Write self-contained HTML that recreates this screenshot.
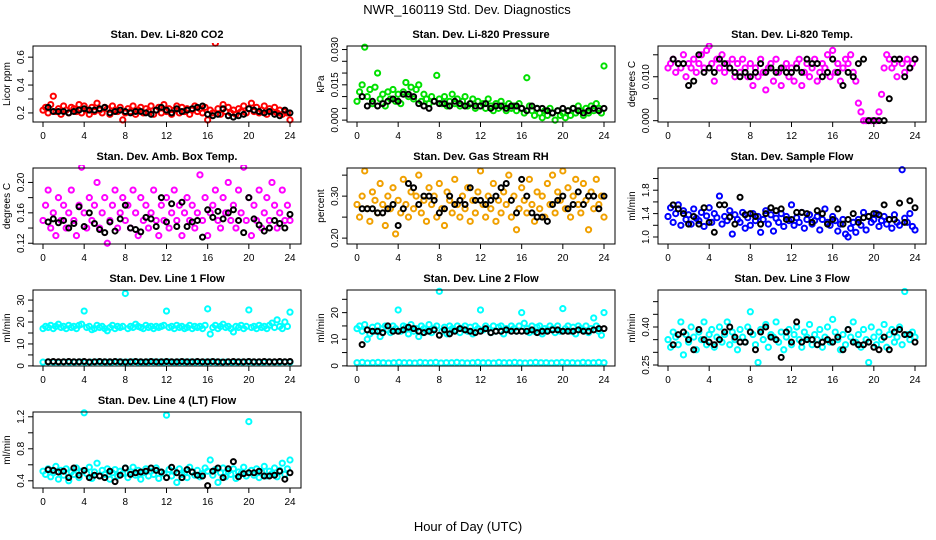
<!DOCTYPE html>
<html><head><meta charset="utf-8"><style>
body{margin:0;background:#fff;}
svg{display:block;font-family:"Liberation Sans",sans-serif;}
</style></head><body>
<svg id="chart" width="936" height="540" viewBox="0 0 936 540">
<rect width="936" height="540" fill="#fff"/>
<text x="467" y="14" text-anchor="middle" font-size="13">NWR_160119  Std. Dev. Diagnostics</text>
<text x="468" y="531" text-anchor="middle" font-size="13">Hour of Day (UTC)</text>
</svg>
<script>
const xTicks = [0,4,8,12,16,20,24];
const titles = ["Stan. Dev. Li-820 CO2","Stan. Dev. Li-820 Pressure","Stan. Dev. Li-820 Temp.","Stan. Dev. Amb. Box Temp.","Stan. Dev. Gas Stream RH","Stan. Dev. Sample Flow","Stan. Dev. Line 1 Flow","Stan. Dev. Line 2 Flow","Stan. Dev. Line 3 Flow","Stan. Dev. Line 4 (LT) Flow"];
const yUnits = ["Licor ppm","kPa","degrees C","degrees C","percent","ml/min","ml/min","ml/min","ml/min","ml/min"];
const yRanges = [[0.135,0.68],[-0.0008,0.0315],[-0.0003,0.017],[0.119,0.219],[0.186,0.367],[0.88,2.18],[-0.05,34.6],[-0.05,28.5],[0.246,0.546],[0.31,1.26]];
const yTickVals = [[0.2,0.3,0.4,0.5,0.6],[0,0.005,0.010,0.015,0.020,0.025,0.030],[0,0.005,0.010,0.015],[0.12,0.14,0.16,0.18,0.20],[0.20,0.25,0.30,0.35],[1.0,1.2,1.4,1.6,1.8,2.0],[0,5,10,15,20,25,30],[0,5,10,15,20,25],[0.25,0.30,0.35,0.40,0.45,0.50],[0.4,0.6,0.8,1.0,1.2]];
const yTickLabels = [["0.2","","0.4","","0.6"],["0.000","","","0.015","","","0.030"],["0.000","","0.010",""],["0.12","","0.16","","0.20"],["0.20","","0.30",""],["1.0","","1.4","","1.8",""],["0","","10","","20","","30"],["0","","10","","20",""],["0.25","","","0.40","",""],["0.4","","0.8","","1.2"]];
const colors = ["#ff0000","#00e000","#ff00ff","#ff00ff","#f0a000","#0000ff","#00ffff","#00ffff","#00ffff","#00ffff"];

const c1=[0.22,0.24,0.20,0.26,0.32,0.21,0.23,0.19,0.25,0.22,0.20,0.24,0.23,0.21,0.26,0.20,0.25,0.22,0.19,0.24,0.21,0.27,0.22,0.20,0.24,0.23,0.19,0.25,0.22,0.21,0.24,0.15,0.20,0.23,0.21,0.25,0.19,0.22,0.24,0.20,0.23,0.21,0.25,0.19,0.22,0.24,0.20,0.26,0.21,0.23,0.19,0.22,0.25,0.20,0.24,0.21,0.23,0.19,0.22,0.25,0.21,0.23,0.20,0.24,0.15,0.22,0.20,0.70,0.23,0.19,0.26,0.21,0.24,0.20,0.22,0.19,0.23,0.21,0.25,0.20,0.23,0.27,0.21,0.24,0.20,0.22,0.25,0.19,0.23,0.21,0.24,0.20,0.22,0.19,0.21,0.20,0.15];
const k1=[0.24,0.21,0.21,0.21,0.20,0.21,0.22,0.23,0.22,0.22,0.23,0.24,0.20,0.21,0.22,0.21,0.20,0.21,0.21,0.20,0.19,0.22,0.24,0.22,0.20,0.23,0.21,0.22,0.23,0.24,0.25,0.19,0.18,0.19,0.23,0.18,0.17,0.18,0.19,0.23,0.22,0.21,0.20,0.21,0.19,0.18,0.22,0.20];
const c2=[0.008,0.012,0.015,0.031,0.010,0.013,0.007,0.014,0.020,0.009,0.011,0.006,0.012,0.009,0.013,0.008,0.011,0.007,0.012,0.016,0.010,0.014,0.009,0.013,0.015,0.008,0.011,0.009,0.007,0.010,0.008,0.019,0.009,0.007,0.010,0.006,0.008,0.011,0.007,0.009,0.006,0.008,0.010,0.006,0.007,0.009,0.005,0.008,0.006,0.007,0.005,0.009,0.006,0.004,0.007,0.005,0.008,0.006,0.004,0.007,0.005,0.006,0.004,0.007,0.005,0.003,0.018,0.006,0.004,0.002,0.005,0.003,0.001,0.004,0.002,0.005,0.003,0.000,0.004,0.002,0.003,0.001,0.004,0.002,0.005,0.003,0.006,0.004,0.002,0.005,0.003,0.006,0.004,0.007,0.005,0.003,0.023];
const k2=[0.010,0.006,0.008,0.006,0.007,0.008,0.009,0.008,0.011,0.011,0.010,0.007,0.006,0.005,0.008,0.007,0.007,0.006,0.008,0.007,0.006,0.007,0.006,0.006,0.007,0.005,0.006,0.006,0.005,0.006,0.006,0.005,0.004,0.006,0.005,0.005,0.004,0.003,0.004,0.005,0.004,0.005,0.004,0.003,0.004,0.005,0.004,0.005];
const c3=[0.012,0.013,0.014,0.011,0.013,0.012,0.015,0.010,0.013,0.012,0.014,0.011,0.013,0.015,0.012,0.016,0.017,0.013,0.009,0.014,0.012,0.015,0.011,0.013,0.012,0.014,0.010,0.013,0.011,0.014,0.012,0.010,0.013,0.008,0.012,0.010,0.014,0.011,0.007,0.012,0.013,0.009,0.014,0.011,0.008,0.012,0.013,0.010,0.012,0.009,0.013,0.014,0.008,0.011,0.013,0.010,0.012,0.014,0.009,0.011,0.013,0.012,0.015,0.010,0.016,0.011,0.013,0.009,0.012,0.014,0.013,0.015,0.011,0.009,0.004,0.002,0.000,0.000,0.000,0.000,0.000,0.000,0.002,0.006,0.012,0.015,0.014,0.012,0.013,0.010,0.014,0.013,0.011,0.014,0.012,0.013,0.014];
const k3=[0.014,0.013,0.013,0.008,0.009,0.015,0.011,0.012,0.011,0.014,0.013,0.012,0.011,0.010,0.011,0.010,0.011,0.013,0.011,0.012,0.011,0.012,0.011,0.011,0.012,0.011,0.014,0.013,0.013,0.010,0.011,0.014,0.011,0.008,0.011,0.010,0.013,0.014,0.000,0.000,0.000,0.000,0.005,0.014,0.014,0.010,0.012,0.014];
const c4=[0.15,0.17,0.19,0.14,0.16,0.13,0.18,0.15,0.17,0.14,0.16,0.19,0.15,0.13,0.17,0.22,0.16,0.14,0.18,0.15,0.17,0.20,0.14,0.16,0.18,0.12,0.15,0.17,0.19,0.14,0.16,0.18,0.15,0.17,0.14,0.19,0.16,0.13,0.18,0.15,0.17,0.14,0.16,0.19,0.15,0.13,0.17,0.15,0.18,0.14,0.16,0.19,0.15,0.17,0.13,0.16,0.18,0.15,0.17,0.14,0.16,0.21,0.15,0.18,0.13,0.16,0.17,0.19,0.15,0.14,0.18,0.16,0.20,0.15,0.17,0.14,0.19,0.16,0.22,0.15,0.18,0.13,0.17,0.15,0.19,0.14,0.16,0.18,0.15,0.20,0.17,0.14,0.16,0.19,0.15,0.17,0.15];
const k4=[0.148,0.152,0.147,0.150,0.140,0.146,0.168,0.142,0.160,0.146,0.138,0.134,0.148,0.136,0.152,0.170,0.140,0.138,0.135,0.154,0.152,0.142,0.180,0.148,0.172,0.142,0.174,0.142,0.148,0.150,0.128,0.164,0.154,0.162,0.152,0.160,0.164,0.150,0.134,0.180,0.152,0.144,0.136,0.140,0.150,0.146,0.140,0.158];
const c5=[0.28,0.25,0.30,0.36,0.27,0.24,0.31,0.29,0.26,0.33,0.28,0.23,0.30,0.27,0.32,0.21,0.29,0.26,0.34,0.28,0.25,0.31,0.27,0.30,0.35,0.26,0.29,0.24,0.32,0.28,0.30,0.25,0.33,0.27,0.23,0.31,0.29,0.26,0.34,0.28,0.25,0.30,0.27,0.32,0.24,0.29,0.26,0.31,0.36,0.28,0.25,0.30,0.27,0.33,0.24,0.29,0.26,0.31,0.28,0.35,0.25,0.30,0.22,0.27,0.32,0.29,0.26,0.34,0.28,0.24,0.31,0.27,0.30,0.25,0.33,0.28,0.35,0.26,0.31,0.29,0.36,0.27,0.32,0.25,0.30,0.34,0.28,0.26,0.33,0.29,0.22,0.31,0.27,0.34,0.28,0.30,0.25];
const k5=[0.27,0.27,0.27,0.26,0.26,0.27,0.28,0.23,0.27,0.33,0.32,0.28,0.30,0.30,0.29,0.26,0.27,0.30,0.28,0.29,0.28,0.32,0.29,0.29,0.28,0.29,0.30,0.32,0.33,0.29,0.26,0.34,0.30,0.26,0.25,0.25,0.24,0.28,0.29,0.30,0.27,0.28,0.31,0.28,0.30,0.30,0.27,0.30];
const c6=[1.35,1.50,1.25,1.40,1.55,1.20,1.45,1.30,1.38,1.22,1.48,1.32,1.28,1.42,1.18,1.36,1.50,1.25,1.40,1.33,1.70,1.22,1.35,1.28,1.45,1.05,1.38,1.30,1.25,1.42,1.15,1.33,1.20,1.40,1.28,1.35,1.08,1.30,1.45,1.22,1.38,1.10,1.32,1.25,1.40,1.18,1.35,1.28,1.55,1.20,1.33,1.25,1.42,1.15,1.30,1.38,1.22,1.28,1.35,1.12,1.30,1.48,1.25,1.20,1.35,1.28,1.10,1.22,1.30,1.05,1.00,1.15,1.25,1.08,1.30,1.20,1.42,1.12,1.35,1.25,1.30,1.40,1.18,1.28,1.35,1.22,1.30,1.15,1.38,1.25,1.20,2.15,1.32,1.25,1.40,1.18,1.12];
const k6=[1.55,1.48,1.40,1.22,1.35,1.22,1.50,1.25,1.08,1.55,1.55,1.34,1.22,1.68,1.38,1.40,1.35,1.22,1.40,1.50,1.45,1.48,1.30,1.30,1.42,1.42,1.40,1.25,1.45,1.40,1.22,1.30,1.48,1.22,1.30,1.40,1.25,1.33,1.35,1.40,1.38,1.55,1.30,1.30,1.58,1.25,1.62,1.50];
const c7=[17,18,17.5,18.5,17,18,19,17.5,18,17,18.5,17.5,18,17,18.5,19,25,17.5,18,16.5,17,18.5,17.5,18,17,16,17.5,18.5,17,18,17.5,18,33,17,18,17.5,19,18,17.5,17,18.5,17.5,18,17,18,17.5,18,18.5,25,17.5,18,17,18.5,17.5,18,17,17.5,18.5,17,18,17.5,18,17,18.5,26,14.5,17.5,18.5,17,18,19,17.5,18,17,15.5,18,17.5,18.5,17,18,25.5,17.5,18,17,18.5,17.5,18,17,18.5,19.5,17.5,21,18,17,20,18,24.5];
const c7low=[1.7,1.8,1.7,1.6,1.8,1.7,1.7,1.8,1.6,1.7,1.8,1.7,1.7,1.6,1.8,1.7,1.7,1.8,1.7,1.6,1.7,1.8,1.7,1.7,1.8,1.6,1.7,1.7,1.8,1.7,1.6,1.7,1.8,1.7,1.7,1.8,1.6,1.7,1.7,1.8,1.7,1.7,1.6,1.8,1.7,1.7,1.8,1.7];
const k7=[1.9,2.0,1.9,1.9,2.0,1.9,1.9,2.0,1.8,1.9,2.0,1.9,1.9,2.0,1.9,1.8,1.9,2.0,1.9,1.9,2.0,1.9,1.9,2.0,1.9,1.9,2.0,1.9,1.9,2.0,1.9,1.9,2.0,1.9,1.8,1.9,2.0,1.9,1.9,2.0,1.9,1.9,2.0,1.9,1.9,2.0,1.9,2.0];
const c8=[14,15,13,15.5,10,12,14.5,13,15,11,14,15,13.5,12.5,15,14,21,13,15,14.5,12,15.5,13,14,11,15,14,13,15.5,12.5,14,15,28,13,14.5,12,15,14,13.5,15,12.5,14,15,13,14.5,12,15,14,21,13.5,15,14,12.5,15,13,14.5,15,12,14,13.5,15,14,13,15,20,16,14,12.5,15,13,14.5,15,12,14,13.5,15,14,12.5,15,13,21.5,14,15,13,14.5,12,15,14,13.5,15,12.5,14,18,15,13,11.5,20];
const c8low=[1.2,1.3,1.1,1.2,1.3,1.2,1.1,1.2,1.3,1.2,1.2,1.1,1.3,1.2,1.2,1.3,1.1,1.2,1.2,1.3,1.2,1.1,1.2,1.3,1.2,1.2,1.1,1.3,1.2,1.2,1.3,1.2,1.1,1.2,1.3,1.2,1.2,1.1,1.2,1.3,1.2,1.2,1.1,1.3,1.2,1.2,1.3,1.2];
const k8=[8,13.5,13,13,12.5,15,13,13,13.5,14.5,14,13,12.5,13,13.5,11.5,13.5,12,13,14,13.5,13,12.5,13,14,12.5,13,13,13.5,13,13,13,13,13.5,12.5,13,13,13.5,13.5,13,13,13,13.5,13,13,13.5,14,14];
const c9=[0.35,0.32,0.38,0.36,0.33,0.42,0.29,0.37,0.34,0.40,0.36,0.31,0.38,0.35,0.42,0.33,0.37,0.39,0.32,0.36,0.40,0.34,0.37,0.42,0.33,0.38,0.35,0.31,0.39,0.36,0.34,0.40,0.46,0.37,0.33,0.26,0.39,0.35,0.41,0.32,0.37,0.36,0.42,0.34,0.38,0.31,0.36,0.39,0.33,0.37,0.40,0.35,0.32,0.38,0.36,0.41,0.33,0.37,0.35,0.39,0.32,0.36,0.40,0.34,0.43,0.38,0.35,0.31,0.37,0.33,0.39,0.36,0.42,0.34,0.37,0.32,0.39,0.35,0.26,0.40,0.36,0.33,0.38,0.35,0.41,0.32,0.37,0.39,0.34,0.36,0.40,0.33,0.54,0.37,0.35,0.38,0.36];
const k9=[0.33,0.37,0.38,0.35,0.31,0.39,0.35,0.34,0.33,0.35,0.38,0.40,0.36,0.34,0.34,0.38,0.31,0.38,0.40,0.36,0.35,0.28,0.38,0.34,0.42,0.34,0.35,0.35,0.33,0.34,0.35,0.34,0.36,0.31,0.39,0.34,0.33,0.33,0.34,0.32,0.31,0.36,0.31,0.38,0.39,0.37,0.37,0.34];
const c10=[0.52,0.48,0.55,0.45,0.50,0.58,0.42,0.53,0.47,0.55,0.40,0.51,0.48,0.56,0.44,0.52,1.25,0.49,0.57,0.43,0.51,0.62,0.46,0.53,0.48,0.55,0.42,0.50,0.54,0.46,0.52,0.49,0.56,0.44,0.51,0.57,0.47,0.53,0.42,0.50,0.55,0.46,0.52,0.48,0.56,0.43,0.51,0.49,1.22,0.54,0.46,0.52,0.38,0.55,0.48,0.50,0.44,0.57,0.51,0.47,0.53,0.45,0.49,0.56,0.52,0.66,0.47,0.54,0.38,0.50,0.56,0.45,0.52,0.48,0.55,0.43,0.51,0.49,0.57,0.46,1.14,0.53,0.47,0.55,0.44,0.51,0.58,0.46,0.52,0.49,0.56,0.45,0.53,0.62,0.48,0.55,0.66];
const k10=[0.54,0.53,0.51,0.52,0.44,0.56,0.47,0.53,0.44,0.47,0.46,0.44,0.52,0.39,0.47,0.56,0.48,0.50,0.51,0.52,0.56,0.53,0.51,0.44,0.57,0.50,0.44,0.54,0.51,0.47,0.46,0.34,0.52,0.56,0.44,0.55,0.64,0.45,0.49,0.50,0.50,0.52,0.46,0.46,0.47,0.52,0.42,0.50];

const colorSeries=[[c1],[c2],[c3],[c4],[c5],[c6],[c7,c7low],[c8,c8low],[c9],[c10]];
const blackSeries=[k1,k2,k3,k4,k5,k6,k7,k8,k9,k10];

const NS="http://www.w3.org/2000/svg";
const svg=document.getElementById('chart');
const colLeft=[33,347,658], rowTop=[46,168,290,412], boxW=268, boxH=76;
function mk(tag,attrs,parent){const e=document.createElementNS(NS,tag);for(const k in attrs)e.setAttribute(k,attrs[k]);parent.appendChild(e);return e;}

for(let p=0;p<10;p++){
  const L=colLeft[p%3], T=rowTop[Math.floor(p/3)];
  const g=mk('g',{},svg);
  
  
  const xS=h=>L+10+h/24*247;
  const [y0,y1]=yRanges[p];
  const yS=v=>T+boxH-(v-y0)/(y1-y0)*boxH;
  const clipId='clip'+p;
  const cp=mk('clipPath',{id:clipId},g); mk('rect',{x:L-3,y:T-3,width:boxW+6,height:boxH+6},cp);
  const t=mk('text',{x:L+boxW/2,y:T-8,'text-anchor':'middle','font-size':11,'font-weight':'bold'},g);
  t.textContent=titles[p];
  
  
  const pg=mk('g',{'clip-path':'url(#'+clipId+')',fill:'none','stroke-width':2},g);
  
  
  colorSeries[p].forEach(arr=>{
    const n=arr.length;
    arr.forEach((v,i)=>{
      const c=mk('circle',{cx:xS(i*24/(n-1)),cy:yS(v),r:2.6,stroke:colors[p]},pg);
      
      
    });
  });
  const kb=blackSeries[p], nb=kb.length;
  kb.forEach((v,i)=>{
    const c=mk('circle',{cx:xS(0.5+i*23.5/(nb-1)),cy:yS(v),r:2.5,stroke:'#000'},pg);
    
    
  });
  const box=mk('rect',{x:L,y:T,width:boxW,height:boxH,fill:'none',stroke:'#000','stroke-width':1},g);
  
  
  mk('line',{x1:xS(0),x2:xS(24),y1:T+boxH,y2:T+boxH,stroke:'#000'},g);
  xTicks.forEach(h=>{
    mk('line',{x1:xS(h),x2:xS(h),y1:T+boxH,y2:T+boxH+5,stroke:'#000'},g);
    const tx=mk('text',{x:xS(h),y:T+boxH+17,'text-anchor':'middle','font-size':10},g);
    tx.textContent=h;
    
    
  });
  const tv=yTickVals[p];
  mk('line',{x1:L,x2:L,y1:yS(tv[0]),y2:yS(tv[tv.length-1]),stroke:'#000'},g);
  tv.forEach((v,i)=>{
    const y=yS(v);
    mk('line',{x1:L-5,x2:L,y1:y,y2:y,stroke:'#000'},g);
    const lab=yTickLabels[p][i];
    if(lab){
      const ty=mk('text',{x:L-9,y:y,'text-anchor':'middle','font-size':10,transform:`rotate(-90 ${L-9} ${y})`},g);
      ty.textContent=lab;
      
      
    }
  });
  const yt=mk('text',{x:L-23,y:T+boxH/2,'text-anchor':'middle','font-size':10,transform:`rotate(-90 ${L-23} ${T+boxH/2})`},g);
  yt.textContent=yUnits[p];
  
  
}
</script>
</body></html>
